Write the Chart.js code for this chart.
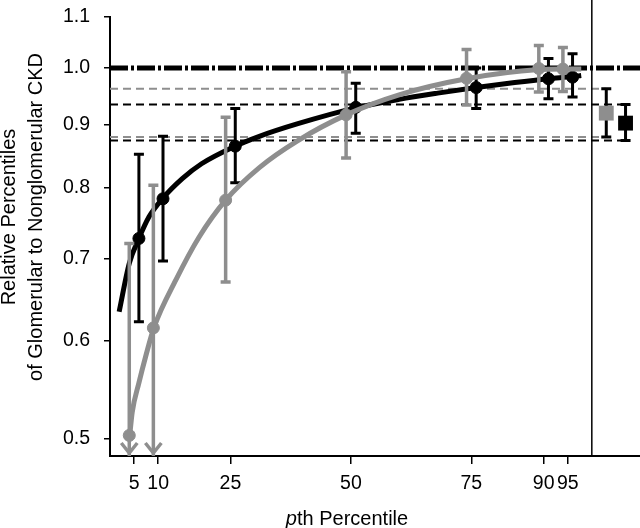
<!DOCTYPE html>
<html>
<head>
<meta charset="utf-8">
<script src="https://cdn.jsdelivr.net/npm/chart.js@4"></script>
<style>
  html, body { margin: 0; padding: 0; background: #fff; }
  #wrap { width: 640px; height: 528px; }
</style>
</head>
<body>
<div id="wrap"><canvas id="chart"></canvas></div>
<script>
// tick labels
const xTicks = [5, 10, 25, 50, 75, 90, 95];
const yTicks = [0.5, 0.6, 0.7, 0.8, 0.9, 1.0, 1.1];

// glomerular CKD (black) - points are nudged right of the percentile
const blackX = [6, 11, 26, 51, 76, 91, 96];
const blackY = [0.727, 0.783, 0.864, 0.929, 0.964, 0.980, 0.983];
const blackLow = [0.622, 0.697, 0.807, 0.885, 0.927, 0.944, 0.947];
const blackHigh = [0.851, 0.880, 0.927, 0.972, 1.000, 1.018, 1.027];

// gray series - nudged left
const grayX = [4, 9, 24, 49, 74, 89, 94];
const grayY = [0.503, 0.615, 0.781, 0.916, 0.981, 0.999, 0.998];
const grayLow = [0.45, 0.45, 0.670, 0.845, 0.933, 0.956, 0.957]; // first two run off the axis
const grayHigh = [0.720, 0.803, 0.912, 0.993, 1.035, 1.043, 1.039];

// fitted curves
const blackCurveX = [1.9, 4, 6, 8.1, 11, 15, 19, 26, 31, 39, 51, 60, 68, 76, 84, 91, 96, 97.8];
const blackCurveY = [0.634, 0.694, 0.727, 0.757, 0.784, 0.813, 0.836, 0.864, 0.880, 0.901, 0.928, 0.943, 0.954, 0.964, 0.973, 0.980, 0.984, 0.986];
const grayCurveX = [4.1, 4.6, 6.0, 7.4, 9.1, 13.7, 18.5, 24, 31, 39, 49, 60, 74, 89, 94, 97.8];
const grayCurveY = [0.503, 0.525, 0.555, 0.583, 0.615, 0.673, 0.729, 0.781, 0.830, 0.873, 0.916, 0.951, 0.980, 0.997, 0.998, 0.998];

// overall summaries (right panel) and their CI reference lines
const summaryX = [103, 107];
const summaryY = [0.919, 0.902];
const summaryLow = [0.879, 0.873];
const summaryHigh = [0.962, 0.934];
const refLine = 1.0;
const separatorX = 100;

const GRAY = "#8e8e8e";
const FONT = "'Liberation Sans', Arial, sans-serif";

const pts = (xs, ys) => xs.map((x, i) => ({ x: x, y: ys[i] }));
const hline = (y, x0, x1) => [{ x: x0, y: y }, { x: x1, y: y }];

// error bars, drawn just before each dataset's own points
const errorBars = {
    id: "errorBars",
    beforeDatasetDraw(chart, args) {
        const ds = chart.data.datasets[args.index];
        if (!ds.errLow) return;
        const ctx = chart.ctx, xs = chart.scales.x, ys = chart.scales.y;
        const bottom = chart.chartArea.bottom;
        ctx.save();
        ctx.strokeStyle = ds.barColor;
        ctx.lineWidth = ds.barWidth;
        ds.data.forEach((p, i) => {
            const px = xs.getPixelForValue(p.x);
            const yHi = ys.getPixelForValue(ds.errHigh[i]);
            const off = ds.errLow[i] < ys.min;
            const yLo = off ? bottom : ys.getPixelForValue(ds.errLow[i]);
            ctx.beginPath();
            ctx.moveTo(px, yHi); ctx.lineTo(px, yLo);
            ctx.moveTo(px - 5, yHi); ctx.lineTo(px + 5, yHi);
            if (!off) {
                ctx.moveTo(px - 5, yLo); ctx.lineTo(px + 5, yLo);
            }
            ctx.stroke();
            if (off) {
                ctx.beginPath();
                ctx.moveTo(px - 8, yLo - 13);
                ctx.lineTo(px, yLo - 3);
                ctx.lineTo(px + 8, yLo - 13);
                ctx.stroke();
            }
        });
        ctx.restore();
    }
};

// separator line and axis titles
const extras = {
    id: "extras",
    afterDraw(chart) {
        const ctx = chart.ctx, area = chart.chartArea;
        const sx = chart.scales.x.getPixelForValue(separatorX);
        ctx.save();
        ctx.strokeStyle = "#000";
        ctx.lineWidth = 1.5;
        ctx.beginPath();
        ctx.moveTo(sx, 0); ctx.lineTo(sx, area.bottom);
        ctx.stroke();

        ctx.fillStyle = "#000";
        ctx.font = "20px " + FONT;
        ctx.textAlign = "center";
        ctx.textBaseline = "alphabetic";
        ctx.save();
        ctx.translate(0, 217);
        ctx.rotate(-Math.PI / 2);
        ctx.fillText("Relative Percentiles", 0, 15);
        ctx.fillText("of Glomerular to Nonglomerular CKD", 0, 42);
        ctx.restore();

        ctx.textAlign = "left";
        ctx.font = "italic 20px " + FONT;
        const wp = ctx.measureText("p").width;
        ctx.font = "20px " + FONT;
        const wr = ctx.measureText("th Percentile").width;
        const x0 = 347 - (wp + wr) / 2;
        ctx.font = "italic 20px " + FONT;
        ctx.fillText("p", x0, 525);
        ctx.font = "20px " + FONT;
        ctx.fillText("th Percentile", x0 + wp, 525);
        ctx.restore();
    }
};

new Chart(document.getElementById("chart"), {
    type: "scatter",
    data: {
        datasets: [
            { data: pts(summaryX, summaryY), errLow: summaryLow, errHigh: summaryHigh,
              barColor: "#000", barWidth: 3, order: 0,
              backgroundColor: [GRAY, "#000"], borderColor: [GRAY, "#000"],
              pointStyle: "rect", pointRadius: 10.5, borderWidth: 0 },
            { data: pts(grayX, grayY), errLow: grayLow, errHigh: grayHigh,
              barColor: GRAY, barWidth: 3.5, order: 1,
              backgroundColor: GRAY, borderColor: GRAY, pointRadius: 6 },
            { data: pts(grayCurveX, grayCurveY), showLine: true, order: 2,
              borderColor: GRAY, borderWidth: 5, pointRadius: 0,
              cubicInterpolationMode: "monotone", borderCapStyle: "butt" },
            { data: pts(blackX, blackY), errLow: blackLow, errHigh: blackHigh,
              barColor: "#000", barWidth: 3, order: 3,
              backgroundColor: "#000", borderColor: "#000", pointRadius: 6 },
            { data: pts(blackCurveX, blackCurveY), showLine: true, order: 4,
              borderColor: "#000", borderWidth: 5, pointRadius: 0,
              cubicInterpolationMode: "monotone", borderCapStyle: "butt" },
            { data: hline(refLine, 0, 110), showLine: true, order: 5,
              borderColor: "#000", borderWidth: 5, borderDash: [18, 3, 3, 3], pointRadius: 0 },
            { data: hline(summaryHigh[0], 0, summaryX[0]), showLine: true, order: 6,
              borderColor: GRAY, borderWidth: 2, borderDash: [8, 5], pointRadius: 0 },
            { data: hline(summaryLow[0], 0, summaryX[0]), showLine: true, order: 6,
              borderColor: GRAY, borderWidth: 2, borderDash: [8, 5], pointRadius: 0 },
            { data: hline(summaryHigh[1], 0, summaryX[1]), showLine: true, order: 6,
              borderColor: "#000", borderWidth: 2, borderDash: [8, 5], pointRadius: 0 },
            { data: hline(summaryLow[1], 0, summaryX[1]), showLine: true, order: 6,
              borderColor: "#000", borderWidth: 2, borderDash: [8, 5], pointRadius: 0 }
        ]
    },
    options: {
        responsive: true,
        maintainAspectRatio: false,
        animation: false,
        layout: { autoPadding: false, padding: { top: 17, right: 0, left: 0, bottom: 0 } },
        plugins: { legend: { display: false }, tooltip: { enabled: false } },
        scales: {
            x: {
                type: "linear", min: 0, max: 110,
                afterBuildTicks: s => { s.ticks = xTicks.map(v => ({ value: v })); },
                afterFit: s => { s.height = 72; s.paddingLeft = 0; s.paddingRight = 0; },
                grid: { drawOnChartArea: false, drawTicks: true, tickLength: 8, color: "#000", lineWidth: 1.5 },
                border: { display: true, color: "#000", width: 2 },
                ticks: { color: "#000", padding: 8, maxRotation: 0, autoSkip: false,
                         font: { family: FONT, size: 19.5 } }
            },
            y: {
                type: "logarithmic", min: 0.484, max: 1.1,
                afterBuildTicks: s => { s.ticks = yTicks.map(v => ({ value: v })); },
                afterFit: s => { s.width = 110; s.paddingTop = 0; s.paddingBottom = 0; },
                grid: { drawOnChartArea: false, drawTicks: true, tickLength: 6, color: "#000", lineWidth: 1.5 },
                border: { display: true, color: "#000", width: 2 },
                ticks: { color: "#000", padding: 14, autoSkip: false,
                         font: { family: FONT, size: 19.5 },
                         callback: v => Number(v).toFixed(1) }
            }
        }
    },
    plugins: [errorBars, extras]
});
</script>
</body>
</html>
